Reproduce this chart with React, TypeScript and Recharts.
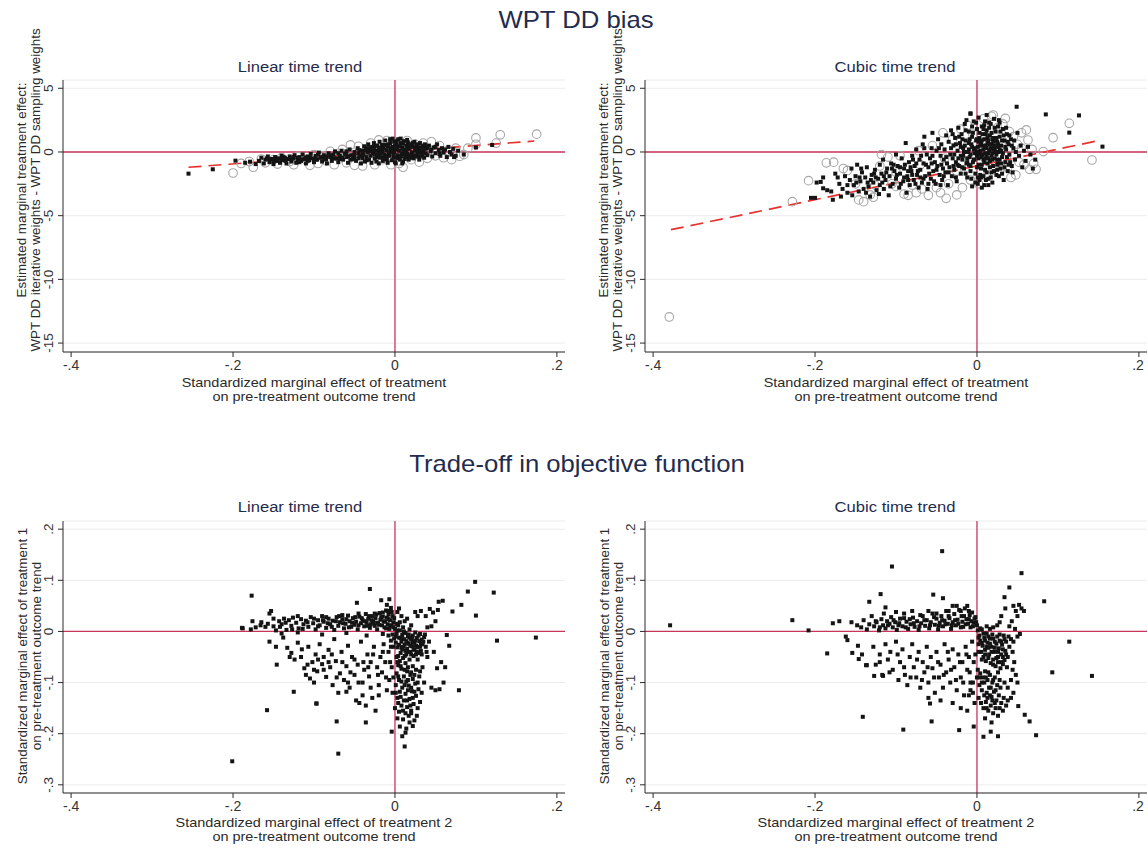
import React from "react";
import { ScatterChart, Scatter, XAxis, YAxis, CartesianGrid, ReferenceLine } from "recharts";

// axis ticks
const xTicks = [-0.4, -0.2, 0, 0.2];
const biasTicks = [-15, -10, -5, 0, 5];
const tradeTicks = [-0.3, -0.2, -0.1, 0, 0.1, 0.2];

// WPT DD bias, linear time trend
const biasLinearSquares = [
  [-0.255, -1.7], [-0.225, -1.36], [-0.197, -0.68], [-0.185, -0.85], [-0.179, -0.76], [-0.172, -0.95],
  [0.073, -0.4], [0.085, -0.2], [0.1, 0.35], [0.12, 0.55],
  [-0.168, -0.7], [-0.165, -0.45], [-0.162, -0.9], [-0.16, -0.6], [-0.157, -0.35], [-0.155, -0.8], [-0.152, -0.55],
  [-0.15, -0.95], [-0.148, -0.4], [-0.146, -0.7], [-0.144, -0.5], [-0.142, -0.85], [-0.14, -0.3], [-0.138, -0.65],
  [-0.136, -0.45], [-0.134, -0.9], [-0.132, -0.55], [-0.13, -0.35], [-0.128, -0.75], [-0.126, -0.5], [-0.124, -0.25],
  [-0.122, -0.85], [-0.12, -0.6], [-0.118, -0.4], [-0.116, -0.7], [-0.114, -0.2], [-0.112, -0.55], [-0.11, -0.9],
  [-0.108, -0.35], [-0.106, -0.65], [-0.104, -0.15], [-0.102, -0.5], [-0.1, -0.8], [-0.098, -0.3], [-0.096, -0.6],
  [-0.094, -0.05], [-0.092, -0.45], [-0.09, -0.75], [-0.088, -0.25], [-0.086, -0.55], [-0.084, -0.9], [-0.082, -0.1],
  [-0.08, -0.4], [-0.078, -0.7], [-0.076, -0.2], [-0.074, 0.05], [-0.072, -0.5], [-0.07, -0.8], [-0.068, -0.3],
  [-0.066, 0.1], [-0.064, -0.6], [-0.062, -0.15], [-0.06, -0.4], [-0.058, -0.85], [-0.056, 0.2], [-0.054, -0.25],
  [-0.052, -0.55], [-0.05, 0.0], [-0.048, -0.7], [-0.046, 0.3], [-0.044, -0.35], [-0.042, -0.9], [-0.04, 0.1],
  [-0.04, -0.5], [-0.039, -0.2], [-0.038, 0.45], [-0.037, -0.75], [-0.036, 0.15], [-0.035, -0.4], [-0.034, -0.05],
  [-0.033, 0.6], [-0.032, -0.6], [-0.031, 0.25], [-0.03, -0.3], [-0.029, -0.85], [-0.028, 0.4], [-0.027, -0.1],
  [-0.026, 0.7], [-0.025, -0.5], [-0.024, 0.1], [-0.023, -0.75], [-0.022, 0.5], [-0.021, -0.25], [-0.02, 0.25],
  [-0.02, -0.9], [-0.019, 0.8], [-0.018, -0.45], [-0.017, 0.05], [-0.016, 0.55], [-0.015, -0.7], [-0.014, 0.3],
  [-0.013, -0.2], [-0.012, 0.9], [-0.011, -0.55], [-0.01, 0.15], [-0.009, -0.85], [-0.008, 0.6], [-0.007, -0.3],
  [-0.006, 1.0], [-0.005, 0.0], [-0.004, -0.65], [-0.003, 0.4], [-0.002, -0.15], [-0.001, 0.8], [0, -0.45],
  [0, 0.2], [0.001, -0.9], [0.002, 0.55], [0.003, -0.25], [0.004, 1.0], [0.005, 0.1], [0.006, -0.6],
  [0.007, 0.7], [0.008, -0.1], [0.009, 0.35], [0.01, -0.75], [0.011, 0.85], [0.012, 0.0], [0.013, -0.4],
  [0.014, 0.5], [0.015, -0.15], [0.016, 0.75], [0.017, -0.6], [0.018, 0.25], [0.019, -0.3], [0.02, 0.6],
  [0.021, -0.05], [0.022, 0.4], [0.023, -0.5], [0.024, 0.8], [0.025, 0.1], [0.026, -0.35], [0.027, 0.55],
  [0.028, -0.1], [0.029, 0.3], [0.03, -0.6], [0.031, 0.7], [0.032, 0.0], [0.033, -0.3], [0.034, 0.45],
  [0.035, 0.15], [0.036, -0.45], [0.037, 0.6], [0.038, -0.1], [0.039, 0.3], [0.04, -0.25], [0.042, 0.5],
  [0.044, 0.05], [0.046, -0.35], [0.048, 0.35], [0.05, -0.1], [0.052, 0.6], [0.054, 0.15], [0.056, -0.3],
  [0.058, 0.3], [0.06, -0.05], [0.062, 0.2], [0.064, -0.4], [0.066, 0.4], [0.068, 0.0], [0.07, -0.2],
  [0.072, 0.25], [0.075, -0.3], [0.078, 0.1],
  [-0.05, -0.3], [-0.045, -0.1], [-0.04, -0.25], [-0.035, 0.3], [-0.03, 0.05], [-0.025, -0.2], [-0.02, 0.0],
  [-0.015, 0.1], [-0.01, -0.3], [-0.005, 0.3], [0, 0.5], [0.005, -0.35], [0.01, 0.2], [0.015, 0.35],
  [0.02, -0.2], [0.025, 0.35], [0.03, 0.15], [-0.008, -0.05], [0.003, 0.25], [0.012, -0.2], [-0.018, -0.15],
  [-0.028, 0.15], [-0.06, 0.05], [-0.07, -0.1], [-0.085, -0.35], [-0.095, -0.2], [-0.11, -0.45], [-0.125, -0.4],
  [-0.14, -0.55], [-0.155, -0.6],
  [-0.15, -0.75], [-0.145, -0.6], [-0.135, -0.7], [-0.13, -0.55], [-0.12, -0.45], [-0.115, -0.6], [-0.105, -0.45],
  [-0.1, -0.55], [-0.09, -0.4], [-0.085, -0.6], [-0.08, -0.25], [-0.075, -0.5], [-0.065, -0.45], [-0.06, -0.2],
  [-0.055, -0.6], [-0.045, -0.5], [-0.04, -0.05], [-0.035, -0.65], [-0.03, 0.35], [-0.025, 0.45], [-0.022, -0.4],
  [-0.018, 0.35], [-0.014, -0.45], [-0.012, 0.55], [-0.01, -0.6], [-0.006, 0.7], [-0.004, 0.2], [-0.002, -0.4],
  [0.002, 0.85], [0.004, -0.5], [0.006, 0.45], [0.008, -0.35], [0.01, 0.65], [0.012, -0.55], [0.014, 0.15],
  [0.016, -0.4], [0.018, 0.55], [0.02, -0.45], [0.022, 0.7], [0.024, -0.25], [0.026, 0.2], [0.028, 0.6],
  [0.03, -0.35], [0.032, 0.35], [0.034, -0.15], [0.036, 0.5], [0.038, 0.25], [0.04, 0.35], [0.045, 0.2],
  [0.05, 0.4], [0.055, -0.15], [0.06, 0.15], [-0.001, 0.0], [-0.009, 0.45], [-0.016, -0.05], [-0.026, 0.25],
  [-0.034, 0.2], [-0.044, 0.15], [-0.05, -0.55], [-0.058, -0.35], [-0.068, -0.55], [-0.078, -0.4], [-0.088, -0.45],
  [-0.098, -0.6], [-0.108, -0.7], [-0.118, -0.8], [-0.128, -0.6], [-0.138, -0.4], [-0.148, -0.7], [-0.158, -0.5],
  [0.007, 1.05], [-0.003, 1.05], [0.015, 0.95], [0.0, -0.8], [0.009, -0.9],
];
const biasLinearCircles = [
  [-0.2, -1.65], [-0.175, -1.2], [-0.18, -0.75], [-0.165, -0.55], [-0.16, -0.85], [-0.15, -0.6], [-0.145, -0.95],
  [-0.14, -0.45], [-0.13, -0.75], [-0.125, -1.0], [-0.12, -0.35], [-0.11, -0.6], [-0.105, -1.05], [-0.1, -0.2],
  [-0.095, -0.9], [-0.09, -0.3], [-0.085, -0.7], [-0.08, 0.05], [-0.075, -1.0], [-0.07, -0.4], [-0.065, 0.2],
  [-0.06, -0.85], [-0.055, 0.55], [-0.05, -1.05], [-0.045, 0.45], [-0.04, -1.1], [-0.035, 0.1], [-0.03, 0.7],
  [-0.025, -1.0], [-0.02, 0.95], [-0.015, -0.6], [-0.01, 0.9], [-0.005, -1.0], [0.0, 0.7], [0.005, -0.9],
  [0.01, -1.2], [0.015, 0.9], [0.02, -0.6], [0.025, 0.6], [0.03, -0.8], [0.035, 0.7], [0.04, -0.5],
  [0.045, 0.8], [0.05, -0.3], [0.055, 0.5], [0.06, -0.45], [0.065, 0.1], [0.07, -0.6], [0.075, 0.3],
  [0.08, -0.35], [0.09, 0.3], [0.1, 0.6], [0.1, 1.1], [0.125, 0.7], [0.13, 1.35], [0.175, 1.4],
  [0.085, -0.2], [-0.19, -0.9],
];
const biasLinearFit = [[-0.255, -1.2], [0.172, 0.86]];

// WPT DD bias, cubic time trend
const biasCubicSquares = [
  [-0.205, -3.6], [-0.2, -3.6], [-0.198, -2.4], [-0.193, -2.35], [-0.19, -2.85], [-0.185, -3.0], [-0.178, -3.75],
  [-0.175, -1.7], [-0.17, -2.5], [-0.166, -2.9], [-0.163, -1.9], [-0.16, -3.2], [-0.157, -2.2], [-0.155, -1.3],
  [-0.152, -2.6], [-0.15, -1.9], [-0.148, -1.0], [-0.146, -3.1], [-0.144, -2.3], [-0.142, -1.6], [-0.14, -2.9],
  [-0.138, -2.0], [-0.136, -1.2], [-0.134, -2.7], [-0.132, -3.5], [-0.13, -1.8], [-0.128, -2.4], [-0.126, -1.4],
  [-0.124, -3.0], [-0.122, -2.1], [-0.12, -1.0], [-0.12, -2.6], [-0.118, -1.7], [-0.116, -0.6], [-0.115, -2.9],
  [-0.113, -2.2], [-0.111, -1.3], [-0.109, -3.4], [-0.108, -1.9], [-0.106, -0.9], [-0.104, -2.5], [-0.102, -1.5],
  [-0.1, -0.2], [-0.1, -2.1], [-0.098, -1.1], [-0.096, -2.8], [-0.095, -1.7], [-0.093, -0.5], [-0.091, -2.3],
  [-0.09, -1.3], [-0.088, 0.7], [-0.087, -3.2], [-0.086, -1.9], [-0.084, -0.8], [-0.083, -2.6], [-0.081, -1.5],
  [-0.08, -0.3], [-0.078, -2.2], [-0.077, -1.1], [-0.075, 0.2], [-0.074, -1.8], [-0.072, -2.8], [-0.071, -0.6],
  [-0.07, -1.4], [-0.068, -2.4], [-0.067, 0.6], [-0.066, -0.9], [-0.065, 1.2], [-0.064, -1.9], [-0.062, -0.2],
  [-0.061, -2.9], [-0.06, -1.2], [-0.058, -0.5], [-0.057, -2.1], [-0.056, 0.3], [-0.055, 1.5], [-0.054, -1.5],
  [-0.052, -0.8], [-0.051, -2.5], [-0.05, 0.1], [-0.049, -1.1], [-0.048, 1.0], [-0.046, -1.8], [-0.045, -0.3],
  [-0.044, 0.6], [-0.043, -2.2], [-0.042, -1.3], [-0.041, -0.6], [-0.04, 0.2], [-0.039, -1.6], [-0.038, 1.3],
  [-0.037, -0.9], [-0.036, -2.6], [-0.035, 0.8], [-0.034, -1.2], [-0.033, -0.2], [-0.032, 1.7], [-0.031, -1.9],
  [-0.03, -0.5], [-0.029, 0.5], [-0.028, -1.4], [-0.027, 1.1], [-0.026, -0.8], [-0.025, -2.3], [-0.024, 0.1],
  [-0.023, 1.9], [-0.022, -1.1], [-0.021, 0.7], [-0.02, -0.3], [-0.02, -1.7], [-0.019, 1.4], [-0.018, -0.6],
  [-0.017, 0.3], [-0.016, -1.3], [-0.015, 2.2], [-0.014, 0.9], [-0.013, -0.9], [-0.012, -2.0], [-0.011, 0.0],
  [-0.01, 1.6], [-0.009, -0.4], [-0.008, 3.0], [-0.008, -1.5], [-0.007, 0.6], [-0.006, 1.2], [-0.005, -0.8],
  [-0.004, 2.4], [-0.003, -0.1], [-0.002, -2.4], [-0.001, 0.9], [0, -1.2], [0, 1.8], [0.001, 0.4],
  [0.002, -0.5], [0.002, 2.7], [0.003, 1.1], [0.004, -1.8], [0.004, -0.2], [0.005, 0.7], [0.006, 2.0],
  [0.006, -1.0], [0.007, 1.4], [0.008, -0.6], [0.008, 0.2], [0.009, -2.6], [0.009, 1.0], [0.01, 2.4],
  [0.01, -1.4], [0.011, 0.5], [0.012, -0.3], [0.012, 1.7], [0.013, -0.9], [0.014, 0.9], [0.014, -2.1],
  [0.015, 0.1], [0.016, 1.3], [0.016, -0.7], [0.017, 2.2], [0.018, -1.6], [0.018, 0.6], [0.019, -0.1],
  [0.02, 1.1], [0.02, -1.1], [0.021, 2.6], [0.022, 0.3], [0.022, -0.5], [0.023, 1.6], [0.024, -1.8],
  [0.025, 0.8], [0.026, -0.9], [0.026, 2.0], [0.027, 0.0], [0.028, 1.2], [0.029, -1.3], [0.03, 0.5],
  [0.031, -0.4], [0.032, 1.8], [0.033, -2.2], [0.034, 0.9], [0.035, -0.8], [0.036, 0.2], [0.037, 1.4],
  [0.038, -1.5], [0.039, 0.6], [0.04, -0.2], [0.042, 1.0], [0.043, -1.1], [0.045, 0.3], [0.047, -0.6],
  [0.049, 3.55], [0.05, 1.5], [0.052, -0.3], [0.054, 0.5], [0.056, -1.2], [0.058, 0.1], [0.06, -0.7],
  [0.063, 0.4], [0.066, -0.2], [0.069, -1.3], [0.072, -0.6], [0.085, 2.95], [0.126, 2.87], [0.114, 1.52],
  [0.155, 0.42], [-0.008, 3.03],
  [-0.015, 0.5], [-0.012, -0.5], [-0.01, 0.2], [-0.008, -0.2], [-0.006, 0.4], [-0.004, -0.6], [-0.002, 0.3],
  [0, -0.3], [0.002, 0.8], [0.004, 0.1], [0.006, -0.4], [0.008, 0.5], [0.01, -0.1], [0.012, 0.3],
  [0.014, -0.5], [0.016, 0.6], [0.018, -0.3], [0.02, 0.2], [0.022, 0.9], [0.024, -0.2], [0.026, 0.4],
  [0.028, -0.6], [0.03, 0.1], [-0.01, -1.0], [-0.005, 1.5], [0.005, -1.3], [0.015, 1.9], [0.025, -1.4],
  [0.003, -2.2], [0.012, 2.9], [-0.018, 1.0], [-0.014, -1.7], [0.008, -1.9], [0.019, -2.4], [0.028, 2.3],
  [-0.006, -2.7], [0.001, -2.5], [0.011, -2.2],
  [-0.03, 1.4], [-0.028, -0.2], [-0.026, 0.6], [-0.024, -1.0], [-0.022, 1.2], [-0.02, 0.4], [-0.018, -1.2],
  [-0.016, 0.0], [-0.014, 1.7], [-0.012, -0.8], [-0.01, 0.7], [-0.008, -1.1], [-0.006, 2.0], [-0.004, 0.2],
  [-0.002, -1.7], [0, 1.0], [0, 0.0], [0.002, -1.0], [0.003, 1.5], [0.004, 0.5], [0.005, -2.0],
  [0.006, 0.9], [0.007, -0.2], [0.008, 1.8], [0.009, -0.8], [0.01, 0.4], [0.011, 1.4], [0.012, -1.6],
  [0.013, 0.7], [0.014, -0.1], [0.015, 2.3], [0.016, -1.2], [0.017, 0.3], [0.018, 1.5], [0.019, -0.6],
  [0.02, 0.8], [0.021, -1.5], [0.022, 1.9], [0.023, 0.0], [0.024, 1.1], [0.025, -0.6], [0.026, 0.6],
  [0.027, -1.9], [0.028, 0.2], [0.029, 1.6], [0.03, -0.9], [0.031, 0.9], [0.032, -0.1], [0.033, 1.3],
  [0.034, -1.2], [0.035, 0.4], [0.036, 1.9], [0.037, -0.4], [0.038, 0.8], [0.04, 1.3], [0.041, -0.8],
  [0.043, 0.5], [0.044, -1.6], [0.046, 0.9], [0.048, 0.0], [-0.001, 2.3], [0.001, -2.0], [0.009, 2.1],
  [-0.007, -2.1], [0.017, -2.0], [0.027, 2.5], [-0.013, 2.5], [0.006, -2.8], [0.014, -2.6], [-0.003, -0.6],
  [0.003, 0.0], [0.013, 1.1], [0.021, 0.5], [0.011, -0.5], [-0.009, 1.0], [-0.017, -0.3], [0.019, 1.0],
  [0.025, -1.0], [0.031, -1.7], [0.039, -1.0],
  [-0.19, -2.0], [-0.18, -3.1], [-0.172, -2.0], [-0.168, -3.5], [-0.16, -2.6], [-0.154, -3.4], [-0.149, -2.4],
  [-0.143, -1.3], [-0.137, -3.2], [-0.131, -2.2], [-0.127, -1.7], [-0.121, -3.3], [-0.117, -2.4], [-0.112, -1.6],
  [-0.107, -2.7], [-0.103, -1.0], [-0.099, -1.8], [-0.094, -2.5], [-0.089, -1.0], [-0.085, -2.2], [-0.082, -1.2],
  [-0.079, -0.6], [-0.076, -2.5], [-0.073, -1.5], [-0.069, -0.3], [-0.066, -2.1], [-0.063, -1.0], [-0.059, -1.7],
  [-0.056, -0.9], [-0.053, -2.3], [-0.05, -1.4], [-0.047, 0.3], [-0.044, -1.0], [-0.041, -1.9], [-0.038, -0.4],
  [-0.035, -1.6], [-0.032, 0.3], [-0.029, -1.1], [-0.026, -2.0], [-0.023, -0.5], [-0.055, -0.3], [-0.065, 0.3],
  [-0.075, -0.9], [-0.085, -1.5], [-0.095, -1.2], [-0.105, -1.3], [-0.115, -1.9], [-0.125, -2.0], [-0.135, -2.4],
  [-0.145, -2.0], [-0.045, -2.6], [-0.06, -2.5], [-0.07, -2.0], [-0.08, -1.8], [-0.09, -2.0],
];
const biasCubicCircles = [
  [-0.38, -12.95], [-0.228, -3.9], [-0.208, -2.25], [-0.186, -0.85], [-0.177, -0.8], [-0.165, -1.3], [-0.16, -1.45],
  [-0.146, -3.76], [-0.14, -3.9], [-0.132, -3.37], [-0.128, -3.55], [-0.126, -2.6], [-0.118, -0.2], [-0.11, -0.4],
  [-0.105, -2.5], [-0.1, -2.7], [-0.095, -0.3], [-0.09, -3.3], [-0.085, -3.4], [-0.08, -2.6], [-0.075, -3.2],
  [-0.072, 0.1], [-0.068, -2.9], [-0.06, -3.4], [-0.055, 0.5], [-0.05, -2.8], [-0.045, -3.2], [-0.042, 1.5],
  [-0.038, -3.64], [-0.035, -2.5], [-0.03, 1.0], [-0.025, -3.37], [-0.02, 1.8], [-0.018, -2.8], [-0.012, 2.1],
  [-0.008, -2.2], [-0.005, 1.4], [0.002, -2.5], [0.008, 2.6], [0.012, -1.9], [0.018, 2.8], [0.02, 2.9],
  [0.025, 1.9], [0.028, -1.5], [0.032, 2.2], [0.035, 2.63], [0.038, -1.2], [0.04, 1.6], [0.042, -2.0],
  [0.045, 1.2], [0.048, -1.8], [0.05, 0.6], [0.052, -0.8], [0.055, 1.5], [0.058, -1.0], [0.061, 1.73],
  [0.063, 0.94], [0.065, -1.36], [0.068, 0.2], [0.07, -0.9], [0.073, -1.36], [0.082, 0.03], [0.094, 1.12],
  [0.114, 2.25], [0.142, -0.63], [-0.07, -1.0], [-0.04, -0.5], [0.0, 0.6], [0.015, -0.8], [0.03, 0.5],
  [-0.1, -1.6], [-0.15, -2.5], [-0.12, -1.1], [0.01, 1.2], [-0.025, -1.5], [0.045, -0.2], [0.055, 0.3],
];
const biasCubicFit = [[-0.378, -6.1], [0.154, 0.94]];

// Trade-off in objective function, linear time trend
const tradeLinearPoints = [
  [-0.188, 0.006], [-0.178, 0.004], [-0.176, 0.02], [-0.172, 0.008], [-0.166, 0.012], [-0.16, 0.009], [-0.157, 0.015],
  [-0.155, 0.035], [-0.153, 0.04], [-0.15, 0.01], [-0.147, 0.002], [-0.143, 0.02], [-0.14, 0.014], [-0.137, 0.025],
  [-0.134, 0.003], [-0.131, 0.022], [-0.128, 0.011], [-0.126, 0.027], [-0.122, 0.017], [-0.119, 0.006], [-0.116, 0.024],
  [-0.113, 0.014], [-0.11, 0.021], [-0.107, 0.009], [-0.104, 0.028], [-0.101, 0.016], [-0.098, 0.004], [-0.095, 0.022],
  [-0.093, 0.012], [-0.09, 0.03], [-0.088, 0.019], [-0.085, 0.007], [-0.082, 0.025], [-0.08, 0.014], [-0.077, 0.021],
  [-0.075, 0.003], [-0.072, 0.028], [-0.07, 0.011], [-0.068, 0.018], [-0.065, 0.024], [-0.063, 0.006], [-0.061, 0.015],
  [-0.058, 0.031], [-0.056, 0.02], [-0.054, 0.009], [-0.052, 0.026], [-0.05, 0.013], [-0.048, 0.019], [-0.046, 0.004],
  [-0.044, 0.029], [-0.042, 0.016], [-0.04, 0.022], [-0.038, 0.01], [-0.036, 0.034], [-0.035, 0.018], [-0.033, 0.025],
  [-0.031, 0.007], [-0.03, 0.014], [-0.028, 0.03], [-0.027, 0.02], [-0.025, 0.011], [-0.024, 0.026], [-0.022, 0.004],
  [-0.021, 0.017], [-0.019, 0.036], [-0.018, 0.023], [-0.016, 0.012], [-0.015, 0.029], [-0.013, 0.008], [-0.012, 0.019],
  [-0.011, 0.041], [-0.01, 0.027], [-0.009, 0.014], [-0.008, 0.033], [-0.007, 0.005], [-0.006, 0.022], [-0.005, 0.046],
  [-0.004, 0.011], [-0.003, 0.03], [-0.002, 0.018],
  [-0.14, -0.004], [-0.12, -0.002], [-0.09, -0.006], [-0.06, -0.003], [-0.035, -0.008], [-0.015, -0.005],
  [0, 0.005], [0.002, -0.004], [0.004, 0.012], [0.005, -0.012], [0.006, 0.002], [0.008, -0.02], [0.009, -0.007],
  [0.01, 0.008], [0.011, -0.015], [0.012, -0.026], [0.013, -0.003], [0.014, -0.019], [0.015, -0.034], [0.016, -0.01],
  [0.017, -0.024], [0.018, 0.004], [0.019, -0.04], [0.02, -0.016], [0.021, -0.029], [0.022, -0.008], [0.023, -0.036],
  [0.024, -0.021], [0.025, -0.002], [0.026, -0.045], [0.027, -0.013], [0.028, -0.031], [0.03, -0.019], [0.031, -0.005],
  [0.032, -0.038], [0.034, -0.025], [0.036, -0.011], [0.038, -0.03], [0.001, -0.022], [0.003, -0.031], [-0.001, -0.014],
  [-0.003, -0.006], [0.007, -0.042], [0.01, -0.03], [0.014, -0.045], [0.018, -0.012], [0.022, -0.022], [0.026, -0.028],
  [0.029, -0.042], [0.033, -0.016], [0.02, 0.012], [0.028, 0.03], [0.032, 0.04], [0.025, 0.038], [0.015, 0.025],
  [0.04, 0.008],
  [0.002, -0.05], [0.006, -0.058], [0.01, -0.052], [0.004, -0.066], [0.013, -0.062], [0.018, -0.055], [0.008, -0.073],
  [0.015, -0.078], [0.022, -0.068], [0.002, -0.082], [0.011, -0.088], [0.019, -0.085], [0.026, -0.075], [0.005, -0.095],
  [0.014, -0.098], [0.022, -0.093], [0.03, -0.088], [0.001, -0.105], [0.009, -0.11], [0.017, -0.106], [0.025, -0.102],
  [0.006, -0.118], [0.013, -0.122], [0.021, -0.117], [0.029, -0.113], [0.003, -0.13], [0.011, -0.135], [0.018, -0.132],
  [0.026, -0.126], [0.008, -0.145], [0.015, -0.148], [0.023, -0.142], [0.031, -0.138], [0.005, -0.157], [0.013, -0.16],
  [0.02, -0.155], [0.027, -0.165], [0.01, -0.172], [0.018, -0.178], [0.024, -0.174], [0.006, -0.186], [0.014, -0.19],
  [0.009, -0.205], [0.02, -0.16], [0.028, -0.15], [0.033, -0.12], [0.036, -0.1], [0.034, -0.07], [0.004, -0.14],
  [0.016, -0.115], [-0.002, -0.09], [-0.004, -0.07], [-0.003, -0.12], [0, -0.15], [0.012, -0.225], [0.013, -0.198],
  [-0.004, -0.196],
  [-0.155, -0.02], [-0.147, -0.03], [-0.146, -0.065], [-0.138, -0.012], [-0.133, -0.032], [-0.128, -0.042], [-0.124, -0.055],
  [-0.125, -0.118], [-0.12, -0.022], [-0.116, -0.05], [-0.112, -0.072], [-0.11, -0.085], [-0.107, -0.03], [-0.105, -0.092],
  [-0.102, -0.06], [-0.1, -0.1], [-0.098, -0.045], [-0.096, -0.078], [-0.097, -0.141], [-0.093, -0.025], [-0.09, -0.064],
  [-0.088, -0.05], [-0.085, -0.089], [-0.082, -0.036], [-0.08, -0.07], [-0.077, -0.105], [-0.075, -0.015], [-0.073, -0.058],
  [-0.07, -0.12], [-0.068, -0.082], [-0.066, -0.04], [-0.063, -0.095], [-0.06, -0.068], [-0.058, -0.028], [-0.056, -0.11],
  [-0.053, -0.05], [-0.05, -0.085], [-0.048, -0.135], [-0.046, -0.065], [-0.044, -0.14], [-0.042, -0.02], [-0.04, -0.1],
  [-0.038, -0.075], [-0.036, -0.145], [-0.034, -0.045], [-0.032, -0.088], [-0.03, -0.06], [-0.028, -0.13], [-0.026, -0.03],
  [-0.024, -0.155], [-0.022, -0.07], [-0.02, -0.105], [-0.018, -0.05], [-0.016, -0.08], [-0.014, -0.025], [-0.012, -0.06],
  [-0.01, -0.115], [-0.008, -0.04], [-0.007, -0.095], [-0.005, -0.03],
  [0.04, -0.05], [0.042, -0.02], [0.045, 0.01], [0.048, -0.04], [0.05, 0.02], [0.052, -0.072], [0.054, 0.058],
  [0.055, -0.113], [0.057, -0.06], [0.06, -0.1], [0.059, 0.06], [0.062, -0.07], [0.064, -0.007], [0.067, -0.028],
  [0.047, 0.037], [0.043, 0.044], [0.053, 0.042], [0.038, 0.03], [0.045, -0.11], [0.05, -0.115],
  [0.099, 0.097], [0.09, 0.078], [0.122, 0.076], [0.1, 0.031], [0.082, 0.052], [0.071, 0.039], [0.126, -0.018],
  [0.174, -0.012], [0.079, -0.115], [-0.177, 0.07], [-0.031, 0.083], [-0.047, 0.056], [-0.017, 0.061], [-0.007, 0.063],
  [-0.201, -0.254], [-0.07, -0.239], [-0.072, -0.176], [-0.036, -0.178], [-0.158, -0.154], [-0.097, -0.141], [-0.189, 0.007],
  [-0.06, -0.118], [-0.006, 0.04], [0.003, 0.038], [0.008, 0.03], [-0.01, 0.052], [0.005, 0.045],
  [-0.165, 0.018], [-0.15, 0.025], [-0.142, 0.009], [-0.135, 0.017], [-0.127, 0.004], [-0.12, 0.03], [-0.114, 0.005],
  [-0.108, 0.018], [-0.1, 0.025], [-0.095, 0.01], [-0.089, 0.022], [-0.083, 0.016], [-0.078, 0.009], [-0.073, 0.02],
  [-0.069, 0.03], [-0.064, 0.016], [-0.06, 0.024], [-0.057, 0.008], [-0.053, 0.017], [-0.049, 0.028], [-0.045, 0.012],
  [-0.041, 0.026], [-0.037, 0.02], [-0.034, 0.011], [-0.032, 0.03], [-0.029, 0.022], [-0.026, 0.017], [-0.023, 0.033],
  [-0.02, 0.013], [-0.017, 0.028], [-0.014, 0.02], [-0.011, 0.006], [-0.008, 0.024], [-0.006, 0.012], [-0.004, 0.038],
  [-0.002, 0.008], [-0.001, 0.026], [-0.009, 0.04], [-0.015, 0.037], [-0.025, 0.035], [-0.045, 0.035], [-0.065, 0.032],
  [-0.085, 0.028],
  [0.001, -0.01], [0.003, 0.002], [0.005, -0.026], [0.007, -0.013], [0.009, -0.035], [0.011, 0.0], [0.013, -0.038],
  [0.015, -0.022], [0.017, -0.006], [0.019, -0.028], [0.021, -0.012], [0.023, -0.048], [0.025, -0.018], [0.027, -0.04],
  [0.029, -0.008], [0.031, -0.03], [0.033, -0.045], [0.035, -0.02], [0.037, -0.006], [0.039, -0.04], [0.004, -0.048],
  [0.008, -0.032], [0.012, -0.048], [0.016, -0.04], [0.02, -0.045], [0.024, -0.035], [0.028, -0.055], [0.032, -0.025],
  [-0.002, -0.03], [-0.005, -0.018], [-0.008, -0.008], [0.006, 0.018], [0.012, 0.02], [0.002, 0.015],
  [0.003, -0.06], [0.007, -0.068], [0.012, -0.075], [0.016, -0.07], [0.02, -0.08], [0.024, -0.085], [0.004, -0.088],
  [0.008, -0.098], [0.012, -0.105], [0.016, -0.095], [0.02, -0.11], [0.024, -0.118], [0.007, -0.128], [0.015, -0.135],
  [0.022, -0.13], [0.01, -0.155], [0.017, -0.165], [0.022, -0.185], [0.003, -0.17], [0.028, -0.1], [0.031, -0.078],
  [0.001, -0.12], [0.019, -0.145],
  [-0.13, -0.05], [-0.115, -0.035], [-0.108, -0.065], [-0.095, -0.055], [-0.088, -0.075], [-0.078, -0.045], [-0.072, -0.09],
  [-0.065, -0.06], [-0.055, -0.08], [-0.05, -0.055], [-0.045, -0.1], [-0.039, -0.06], [-0.033, -0.07], [-0.027, -0.045],
  [-0.021, -0.085], [-0.015, -0.04], [-0.011, -0.09], [-0.006, -0.06], [-0.04, -0.125], [-0.03, -0.11], [-0.02, -0.125],
  [-0.058, -0.1], [-0.082, -0.06], [-0.1, -0.075],
];

// Trade-off in objective function, cubic time trend
const tradeCubicPoints = [
  [-0.379, 0.012], [-0.228, 0.022], [-0.208, 0.002], [-0.043, 0.157], [-0.105, 0.127], [0.055, 0.114], [0.083, 0.059],
  [0.114, -0.02], [0.093, -0.08], [0.142, -0.087], [0.073, -0.203], [0.065, -0.176], [0.059, -0.163], [0.051, -0.146],
  [0.026, -0.205], [0.017, -0.196], [0.008, -0.206], [-0.004, -0.186], [-0.022, -0.193], [-0.091, -0.192], [-0.056, -0.176],
  [-0.141, -0.167], [-0.058, -0.141], [-0.042, 0.065], [-0.054, 0.072], [-0.119, 0.073], [-0.133, 0.058], [-0.113, 0.047],
  [-0.185, -0.043], [-0.154, -0.042], [-0.146, -0.054], [-0.137, -0.066], [-0.127, -0.087], [-0.116, -0.087],
  [-0.178, 0.016], [-0.17, 0.02], [-0.162, -0.01], [-0.16, -0.017], [-0.155, 0.018], [-0.148, 0.012], [-0.143, 0.008],
  [-0.14, 0.022], [-0.136, 0.004], [-0.133, 0.014], [-0.13, 0.03], [-0.127, 0.01], [-0.124, 0.018], [-0.121, 0.002],
  [-0.118, 0.024], [-0.116, 0.012], [-0.113, 0.006], [-0.111, 0.02], [-0.108, 0.015], [-0.106, 0.028], [-0.104, 0.008],
  [-0.101, 0.018], [-0.099, 0.003], [-0.097, 0.012], [-0.095, 0.025], [-0.092, 0.01], [-0.09, 0.035], [-0.087, 0.019],
  [-0.085, 0.005], [-0.082, 0.014], [-0.079, 0.027], [-0.077, 0.009], [-0.074, 0.02], [-0.072, 0.003], [-0.069, 0.016],
  [-0.067, 0.03], [-0.064, 0.011], [-0.062, 0.022], [-0.059, 0.006], [-0.057, 0.018], [-0.055, 0.035], [-0.052, 0.013],
  [-0.05, 0.025], [-0.048, 0.004], [-0.046, 0.017], [-0.044, 0.03], [-0.042, 0.01], [-0.04, 0.021], [-0.038, 0.04],
  [-0.036, 0.015], [-0.034, 0.026], [-0.032, 0.005], [-0.03, 0.018], [-0.028, 0.034], [-0.026, 0.012], [-0.024, 0.023],
  [-0.022, 0.042], [-0.02, 0.008], [-0.018, 0.019], [-0.016, 0.03], [-0.014, 0.014], [-0.012, 0.05], [-0.01, 0.024],
  [-0.008, 0.008], [-0.006, 0.037], [-0.004, 0.017], [-0.002, 0.028], [0, 0.012], [-0.025, 0.05], [-0.015, 0.045],
  [-0.03, 0.05], [-0.06, 0.04], [-0.08, 0.04], [-0.1, 0.038], [-0.115, 0.035],
  [0.001, 0.002], [0.003, -0.008], [0.004, -0.018], [0.006, 0.004], [0.007, -0.028], [0.009, -0.012], [0.01, -0.036],
  [0.012, -0.004], [0.013, -0.022], [0.015, -0.045], [0.016, -0.014], [0.018, -0.03], [0.019, -0.006], [0.021, -0.04],
  [0.022, -0.02], [0.024, -0.052], [0.025, -0.01], [0.027, -0.033], [0.028, -0.018], [0.03, -0.045], [0.031, -0.026],
  [0.033, -0.008], [0.035, -0.038], [0.036, -0.02], [0.038, -0.05], [0.04, -0.03], [0.002, -0.025], [0.005, -0.04],
  [0.008, -0.05], [0.011, -0.058], [0.014, -0.032], [0.017, -0.062], [0.02, -0.055], [0.023, -0.068], [0.026, -0.06],
  [0.029, -0.072], [0.032, -0.064], [0.034, -0.056], [0.037, -0.07], [0.039, -0.01], [0.042, -0.015], [0.044, -0.04],
  [0.046, -0.06],
  [0.001, -0.075], [0.004, -0.082], [0.007, -0.09], [0.01, -0.078], [0.013, -0.095], [0.016, -0.085], [0.019, -0.1],
  [0.022, -0.09], [0.025, -0.105], [0.028, -0.095], [0.003, -0.105], [0.006, -0.115], [0.009, -0.1], [0.012, -0.12],
  [0.015, -0.11], [0.018, -0.128], [0.021, -0.118], [0.024, -0.135], [0.027, -0.125], [0.03, -0.14], [0.033, -0.13],
  [0.005, -0.14], [0.008, -0.15], [0.011, -0.138], [0.014, -0.155], [0.017, -0.145], [0.02, -0.16], [0.023, -0.15],
  [0.026, -0.165], [0.032, -0.155], [0.036, -0.145], [0.038, -0.11], [0.042, -0.095], [0.045, -0.12], [-0.005, -0.12],
  [-0.008, -0.115], [-0.01, -0.125], [-0.003, -0.14], [0.01, -0.17], [0.018, -0.178], [0.0, -0.09],
  [-0.128, -0.03], [-0.125, -0.065], [-0.12, -0.045], [-0.117, -0.085], [-0.113, -0.025], [-0.11, -0.055], [-0.107, -0.04],
  [-0.104, -0.075], [-0.1, -0.02], [-0.097, -0.095], [-0.095, -0.06], [-0.092, -0.035], [-0.089, -0.085], [-0.086, -0.105],
  [-0.083, -0.05], [-0.08, -0.025], [-0.078, -0.07], [-0.075, -0.09], [-0.072, -0.04], [-0.07, -0.11], [-0.067, -0.06],
  [-0.065, -0.08], [-0.062, -0.03], [-0.06, -0.1], [-0.057, -0.05], [-0.055, -0.072], [-0.052, -0.12], [-0.05, -0.04],
  [-0.047, -0.09], [-0.045, -0.065], [-0.042, -0.11], [-0.04, -0.025], [-0.038, -0.08], [-0.035, -0.055], [-0.033, -0.1],
  [-0.03, -0.035], [-0.028, -0.07], [-0.025, -0.115], [-0.023, -0.045], [-0.02, -0.09], [-0.018, -0.06], [-0.016, -0.125],
  [-0.014, -0.03], [-0.012, -0.075], [-0.01, -0.05], [-0.008, -0.1], [-0.006, -0.02], [-0.004, -0.06], [-0.142, -0.045],
  [-0.136, -0.066], [-0.147, -0.028], [-0.06, -0.13], [-0.045, -0.135], [-0.03, -0.14], [-0.02, -0.15], [-0.012, -0.155],
  [0.04, 0.086], [0.034, 0.067], [0.045, 0.05], [0.048, 0.04], [0.05, 0.03], [0.052, 0.052], [0.055, 0.045],
  [0.058, 0.04], [0.043, 0.02], [0.04, 0.01], [0.047, 0.005], [0.05, -0.01], [0.053, -0.005], [0.045, -0.02],
  [0.044, -0.075], [0.048, -0.085], [0.042, -0.13], [0.038, -0.135], [0.05, -0.1], [0.03, 0.03], [0.028, 0.018],
  [0.035, 0.045], [0.025, 0.012], [0.032, -0.05],
  [-0.125, 0.02], [-0.12, 0.008], [-0.11, 0.012], [-0.103, 0.022], [-0.096, 0.016], [-0.088, 0.008], [-0.083, 0.024],
  [-0.078, 0.016], [-0.071, 0.01], [-0.065, 0.022], [-0.058, 0.012], [-0.053, 0.028], [-0.047, 0.011], [-0.043, 0.022],
  [-0.039, 0.014], [-0.035, 0.03], [-0.031, 0.012], [-0.027, 0.022], [-0.023, 0.015], [-0.019, 0.03], [-0.017, 0.009],
  [-0.013, 0.024], [-0.011, 0.015], [-0.009, 0.032], [-0.007, 0.02], [-0.005, 0.01], [-0.003, 0.025], [-0.001, 0.018],
  [-0.02, 0.04], [-0.01, 0.04], [-0.035, 0.04], [-0.05, 0.035], [-0.07, 0.032], [-0.09, 0.026],
  [0.002, -0.012], [0.004, 0.006], [0.006, -0.022], [0.008, -0.004], [0.01, -0.018], [0.012, -0.03], [0.014, -0.01],
  [0.016, -0.024], [0.018, -0.04], [0.02, -0.014], [0.022, -0.032], [0.024, -0.024], [0.026, -0.04], [0.028, -0.006],
  [0.03, -0.02], [0.032, -0.035], [0.034, -0.015], [0.036, -0.045], [0.01, -0.045], [0.014, -0.052], [0.02, -0.065],
  [0.026, -0.05], [0.03, -0.06], [0.006, -0.055], [0.002, -0.04], [0.016, 0.005], [0.02, 0.008], [0.012, 0.01],
  [0.003, -0.09], [0.006, -0.1], [0.011, -0.09], [0.014, -0.08], [0.017, -0.11], [0.02, -0.095], [0.023, -0.115],
  [0.026, -0.08], [0.029, -0.11], [0.009, -0.125], [0.013, -0.13], [0.016, -0.125], [0.022, -0.14], [0.028, -0.15],
  [0.012, -0.15], [0.019, -0.135], [0.034, -0.1], [0.002, -0.13],
  [-0.12, -0.06], [-0.108, -0.08], [-0.098, -0.045], [-0.09, -0.07], [-0.082, -0.09], [-0.074, -0.055], [-0.068, -0.095],
  [-0.061, -0.07], [-0.053, -0.09], [-0.048, -0.06], [-0.041, -0.085], [-0.036, -0.04], [-0.032, -0.075], [-0.026, -0.095],
  [-0.021, -0.06], [-0.017, -0.1], [-0.013, -0.045], [-0.009, -0.08], [-0.005, -0.1], [-0.002, -0.045],
];

const toPts = (a: number[][]) => a.map(([x, y]) => ({ x, y }));
const stata = (v: number) => (v === 0 ? "0" : String(v).replace("0.", "."));

const FONT = '"Liberation Sans", Arial, sans-serif';
const NAVY = "#1f2c4e";
const REF = "#c7355a";
const FIT = "#e5322f";

const Square = (p: any) => <rect x={p.cx - 2} y={p.cy - 2} width={4} height={4} fill="#141414" />;
const Ring = (p: any) => (
  <circle cx={p.cx} cy={p.cy} r={4.3} fill="none" stroke="#a6a6a6" strokeWidth={1.1} />
);

const YTick = ({ x, y, payload }: any) => (
  <text x={x} y={y} transform={`rotate(-90 ${x} ${y})`} textAnchor="middle" fontSize={13.5} fill="#333" fontFamily={FONT}>
    {stata(payload.value)}
  </text>
);
const XTick = ({ x, y, payload }: any) => (
  <text x={x} y={y} dy="0.71em" textAnchor="middle" fontSize={14} fill="#333" fontFamily={FONT}>
    {stata(payload.value)}
  </text>
);

interface PanelProps {
  left: number;
  top: number;
  width: number;
  right: number;
  yDomain: [number, number];
  yTicks: number[];
  squares: number[][];
  circles?: number[][];
  fit?: number[][];
}

function Panel({ left, top, width, right, yDomain, yTicks, squares, circles, fit }: PanelProps) {
  return (
    <div style={{ position: "absolute", left, top }}>
      <ScatterChart width={width} height={305} margin={{ top: 10, right, bottom: 0, left: 0 }}>
        <CartesianGrid vertical={false} stroke="#ececec" strokeWidth={1} />
        <XAxis
          type="number"
          dataKey="x"
          domain={[-0.41, 0.21]}
          ticks={xTicks}
          height={23}
          tickSize={5}
          tickMargin={3}
          tick={<XTick />}
          stroke="#2a2a2a"
        />
        <YAxis
          type="number"
          dataKey="y"
          domain={yDomain}
          ticks={yTicks}
          width={63}
          tickSize={5}
          tickMargin={5}
          tick={<YTick />}
          stroke="#2a2a2a"
        />
        <ReferenceLine x={0} stroke={REF} strokeWidth={1.3} />
        <ReferenceLine y={0} stroke={REF} strokeWidth={1.3} />
        {circles && <Scatter data={toPts(circles)} shape={Ring} isAnimationActive={false} />}
        <Scatter data={toPts(squares)} shape={Square} isAnimationActive={false} />
        {fit && (
          <ReferenceLine
            segment={[{ x: fit[0][0], y: fit[0][1] }, { x: fit[1][0], y: fit[1][1] }]}
            stroke={FIT}
            strokeWidth={1.7}
            strokeDasharray="13 7"
          />
        )}
      </ScatterChart>
    </div>
  );
}

const Title = ({ x, y, size, children, color = NAVY }: any) => (
  <div
    style={{
      position: "absolute",
      left: x,
      top: y,
      transform: "translate(-50%, -50%) scaleX(1.07)",
      fontSize: size,
      color,
      whiteSpace: "nowrap",
      fontFamily: FONT,
      lineHeight: "14px",
      textAlign: "center",
    }}
  >
    {children}
  </div>
);

const VTitle = ({ x, y, lines }: { x: number; y: number; lines: string[] }) => (
  <div
    style={{
      position: "absolute",
      left: x,
      top: y,
      transform: "translate(-50%, -50%) rotate(-90deg)",
      fontSize: 13.4,
      color: "#2a2a2a",
      whiteSpace: "nowrap",
      fontFamily: FONT,
      lineHeight: "14px",
      textAlign: "center",
    }}
  >
    {lines.map((l) => (
      <div key={l}>{l}</div>
    ))}
  </div>
);

export default function App() {
  const biasY = ["Estimated marginal treatment effect:", "WPT DD iterative weights - WPT DD sampling weights"];
  const tradeY = ["Standardized marginal effect of treatment 1", "on pre-treatment outcome trend"];
  return (
    <div style={{ position: "absolute", left: 0, top: 0, width: 1148, height: 848, overflow: "hidden", background: "#fff" }}>
      <Title x={576} y={20} size={24}>WPT DD bias</Title>
      <Title x={300} y={67} size={15.5}>Linear time trend</Title>
      <Title x={895} y={67} size={15.5}>Cubic time trend</Title>

      <Panel left={0} top={70} width={575} right={10} yDomain={[-15.7, 5.65]} yTicks={biasTicks}
        squares={biasLinearSquares} circles={biasLinearCircles} fit={biasLinearFit} />
      <Panel left={582} top={70} width={566} right={1} yDomain={[-15.7, 5.65]} yTicks={biasTicks}
        squares={biasCubicSquares} circles={biasCubicCircles} fit={biasCubicFit} />

      <VTitle x={29} y={190} lines={biasY} />
      <VTitle x={611} y={190} lines={biasY} />
      <Title x={314} y={390} size={13.5} color="#2a2a2a">
        <div>Standardized marginal effect of treatment</div>
        <div>on pre-treatment outcome trend</div>
      </Title>
      <Title x={896} y={390} size={13.5} color="#2a2a2a">
        <div>Standardized marginal effect of treatment</div>
        <div>on pre-treatment outcome trend</div>
      </Title>

      <Title x={577} y={464} size={24}>Trade-off in objective function</Title>
      <Title x={300} y={507} size={15.5}>Linear time trend</Title>
      <Title x={895} y={507} size={15.5}>Cubic time trend</Title>

      <Panel left={0} top={511} width={575} right={10} yDomain={[-0.316, 0.216]} yTicks={tradeTicks}
        squares={tradeLinearPoints} />
      <Panel left={582} top={511} width={566} right={1} yDomain={[-0.316, 0.216]} yTicks={tradeTicks}
        squares={tradeCubicPoints} />

      <VTitle x={30} y={656} lines={tradeY} />
      <VTitle x={612} y={656} lines={tradeY} />
      <Title x={314} y={830} size={13.5} color="#2a2a2a">
        <div>Standardized marginal effect of treatment 2</div>
        <div>on pre-treatment outcome trend</div>
      </Title>
      <Title x={896} y={830} size={13.5} color="#2a2a2a">
        <div>Standardized marginal effect of treatment 2</div>
        <div>on pre-treatment outcome trend</div>
      </Title>
    </div>
  );
}
